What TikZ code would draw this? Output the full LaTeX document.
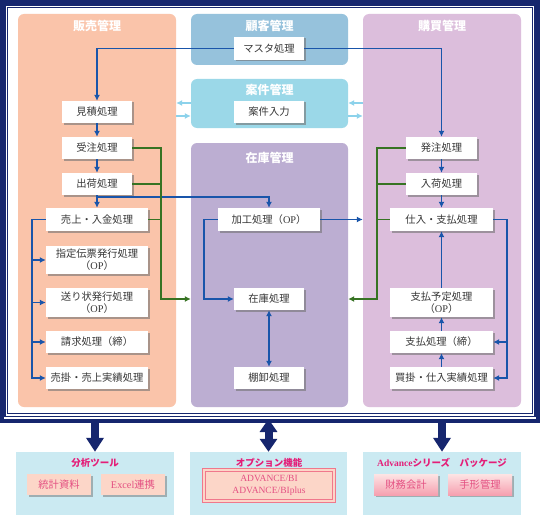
\documentclass[tikz,border=0pt]{standalone}
\usepackage{fontspec}
\setmainfont{Noto Sans CJK JP}
\newfontfamily\lserif{Liberation Serif}
\usetikzlibrary{arrows.meta,shadows,calc}
\definecolor{navy}{RGB}{22,38,110}
\definecolor{csales}{RGB}{250,196,170}
\definecolor{ccust}{RGB}{150,194,220}
\definecolor{ccase}{RGB}{155,216,232}
\definecolor{cstock}{RGB}{188,174,210}
\definecolor{cbuy}{RGB}{220,190,220}
\definecolor{lblue}{RGB}{25,85,170}
\definecolor{lgreen}{RGB}{55,115,35}
\definecolor{lcyan}{RGB}{140,210,235}
\definecolor{cbot}{RGB}{203,234,242}
\definecolor{pinkt}{RGB}{228,30,120}
\definecolor{pinktx}{RGB}{228,80,130}
\definecolor{salbox}{RGB}{252,214,200}
\definecolor{pinkbd}{RGB}{240,120,140}
\definecolor{gradtop}{RGB}{253,228,228}
\definecolor{gradbot}{RGB}{246,160,176}
\definecolor{txtg}{RGB}{55,55,55}
\tikzset{
  panel/.style={rectangle, rounded corners=6pt, inner sep=0pt},
  ptitle/.style={text=white, font=\bfseries\fontsize{12}{14}\selectfont, inner sep=0pt},
  pbox/.style={rectangle, fill=white, inner sep=0pt, text=txtg, align=center,
    font=\fontsize{10.3}{12}\selectfont,
    drop shadow={shadow xshift=1.5pt, shadow yshift=-1.5pt, fill=black!55, opacity=0.6}},
  ws/.style={minimum width=70pt, minimum height=22pt},
  wl/.style={minimum width=102pt, minimum height=22pt},
  blu/.style={draw=lblue, line width=1.7pt},
  grn/.style={draw=lgreen, line width=1.7pt},
  cya/.style={draw=lcyan, line width=1.7pt},
  arr/.style={-{Latex[length=6pt,width=6pt]}},
  darr/.style={{Latex[length=6pt,width=6pt]}-{Latex[length=6pt,width=6pt]}},
  bigarr/.style={draw=navy, line width=8pt, -{Triangle[length=14pt,width=17pt]}},
  bigdarr/.style={draw=navy, line width=8pt, {Triangle[length=13pt,width=17pt]}-{Triangle[length=13pt,width=17pt]}},
  botpanel/.style={rectangle, fill=cbot, inner sep=0pt},
  bottitle/.style={text=pinkt, font=\bfseries\fontsize{9.5}{11}\selectfont, inner sep=0pt},
  subbox/.style={rectangle, inner sep=0pt, minimum width=64pt, minimum height=21pt, text=pinktx,
    font=\fontsize{10.3}{12}\selectfont,
    drop shadow={shadow xshift=1.5pt, shadow yshift=-1.5pt, fill=black!55, opacity=0.5}}
}
\begin{document}
\begin{tikzpicture}[x=1pt,y=-1pt]
\useasboundingbox (0,0) rectangle (540,516);
\fill[white] (0,0) rectangle (540,516);

% frame
\node[inner sep=0pt, minimum width=540pt, minimum height=422pt, anchor=north west] (frame) at (0,0) {};
\draw[navy, line width=3.6pt] (1.8,1.8) rectangle (538.2,420.8);
\draw[navy, line width=1.3pt] (5,5) rectangle (535,416.3);
\draw[navy, line width=0.7pt] (7.2,7.2) rectangle (532.5,413.4);

% panels
\node[panel, fill=csales, minimum width=158pt, minimum height=393pt] (psales) at (97,210.5) {};
\node[panel, fill=ccust, minimum width=157pt, minimum height=51pt] (pcust) at (269.5,39.5) {};
\node[panel, fill=ccase, minimum width=157pt, minimum height=49pt] (pcase) at (269.5,103.5) {};
\node[panel, fill=cstock, minimum width=157pt, minimum height=264pt] (pstock) at (269.5,275) {};
\node[panel, fill=cbuy, minimum width=158pt, minimum height=393pt] (pbuy) at (442,210.5) {};

\node[ptitle] (tsales) at (97,26) {販売管理};
\node[ptitle] (tcust) at (269.5,26) {顧客管理};
\node[ptitle] (tcase) at (269.5,90) {案件管理};
\node[ptitle] (tstock) at (269.5,158) {在庫管理};
\node[ptitle] (tbuy) at (442,26) {購買管理};

% sales boxes
\node[pbox, ws] (m1) at (97,112) {見積処理};
\node[pbox, ws] (m2) at (97,148) {受注処理};
\node[pbox, ws] (m3) at (97,184) {出荷処理};
\node[pbox, wl, minimum height=23pt] (m4) at (97,219.5) {売上・入金処理};
\node[pbox, wl, minimum height=28pt] (m5) at (97,260) {指定伝票発行処理\\（{\lserif OP}）};
\node[pbox, wl, minimum height=29pt] (m6) at (97,302.5) {送り状発行処理\\（{\lserif OP}）};
\node[pbox, wl] (m7) at (97,342) {請求処理（締）};
\node[pbox, wl] (m8) at (97,378) {売掛・売上実績処理};

% middle boxes
\node[pbox, ws, minimum height=23pt] (c1) at (269,48.5) {マスタ処理};
\node[pbox, ws] (c2) at (269,112) {案件入力};
\node[pbox, wl, minimum height=23pt] (s1) at (269,219.5) {加工処理（{\lserif OP}）};
\node[pbox, ws] (s2) at (269,299) {在庫処理};
\node[pbox, ws] (s3) at (269,378) {棚卸処理};

% purchase boxes
\node[pbox, ws, minimum width=71pt] (b1) at (441.5,148) {発注処理};
\node[pbox, ws, minimum width=71pt] (b2) at (441.5,184) {入荷処理};
\node[pbox, wl, minimum width=103pt, minimum height=23pt] (b3) at (441.5,219.5) {仕入・支払処理};
\node[pbox, wl, minimum width=103pt, minimum height=29pt] (b4) at (441.5,302.5) {支払予定処理\\（{\lserif OP}）};
\node[pbox, wl, minimum width=103pt] (b5) at (441.5,342) {支払処理（締）};
\node[pbox, wl, minimum width=103pt] (b6) at (441.5,378) {買掛・仕入実績処理};

% blue connectors
\draw[blu, arr] (c1.west) -| (m1.north);
\draw[blu, arr] (c1.east) -| (b1.north);
\draw[blu, arr] (m1.south) -- (m2.north);
\draw[blu, arr] (m2.south) -- (m3.north);
\draw[blu, arr] (m3.south) -- (m4.north);
\coordinate (j1) at (97,197);
\draw[blu, arr] (j1) -| (s1.north);
\draw[blu, arr] (s1.east) -- (s1.east -| pbuy.west);
\draw[blu, arr] (s1.west) -- ++(-14,0) |- (s2.west);
\draw[blu, darr] (s2.south) -- (s3.north);
\draw[blu, arr] (b1.south) -- (b2.north);
\draw[blu, arr] (b2.south) -- (b3.north);
\draw[blu, arr] (b4.north) -- (b3.south);
\draw[blu, arr] (b5.north) -- (b4.south);
\draw[blu, arr] (b6.north) -- (b5.south);
\draw[blu, arr] (b3.east) -- ++(14,0) coordinate (r1) |- (b6.east);
\draw[blu, arr] (r1 |- b5.east) -- (b5.east);
\draw[blu, arr] (m4.west) -- ++(-14,0) coordinate (l1) |- (m8.west);
\draw[blu, arr] (l1 |- m5.west) -- (m5.west);
\draw[blu, arr] (l1 |- m6.west) -- (m6.west);
\draw[blu, arr] (l1 |- m7.west) -- (m7.west);

% green connectors
\coordinate (g1) at (161,0);
\coordinate (g2) at (377,0);
\draw[grn, arr] (m2.east) -| (g1 |- s2.west) -- (pstock.west |- s2.west);
\draw[grn] (m3.east) -- (m3.east -| g1);
\draw[grn] (m4.east) -- (m4.east -| g1);
\draw[grn, arr] (b1.west) -| (g2 |- s2.east) -- (pstock.east |- s2.east);
\draw[grn] (b2.west) -- (b2.west -| g2);
\draw[grn] (b3.west) -- (b3.west -| g2);

% cyan connectors
\coordinate (ya) at (0,103);
\coordinate (yb) at (0,116);
\draw[cya, arr] (pcase.west |- ya) -- (psales.east |- ya);
\draw[cya, arr] (psales.east |- yb) -- (pcase.west |- yb);
\draw[cya, arr] (pbuy.west |- ya) -- (pcase.east |- ya);
\draw[cya, arr] (pcase.east |- yb) -- (pbuy.west |- yb);

% bottom panels
\node[botpanel, minimum width=158pt, minimum height=63pt] (o1) at (95,483.5) {};
\node[botpanel, minimum width=157pt, minimum height=63pt] (o2) at (268.5,483.5) {};
\node[botpanel, minimum width=158pt, minimum height=63pt] (o3) at (442,483.5) {};
\node[bottitle] (t1) at (95,463) {分析ツール};
\node[bottitle] (t2) at (269,463) {オプション機能};
\node[bottitle] (t3) at (442,463) {{\lserif Advance}シリーズ　パッケージ};

\node[subbox, fill=salbox] (x1) at (59,484.5) {統計資料};
\node[subbox, fill=salbox] (x2) at (133,484.5) {{\lserif Excel}連携};
\node[rectangle, inner sep=0pt, minimum width=130pt, minimum height=31pt, fill=salbox,
  draw=pinkbd, double=salbox, double distance=2pt, line width=1pt, text=pinktx, align=center,
  font=\lserif\fontsize{9.5}{12}\selectfont,
  drop shadow={shadow xshift=1.5pt, shadow yshift=-1.5pt, fill=black!55, opacity=0.5}] (x3) at (269,485.5) {ADVANCE/BI\\ADVANCE/BIplus};
\node[subbox, top color=gradtop, bottom color=gradbot] (x4) at (406,484.5) {財務会計};
\node[subbox, top color=gradtop, bottom color=gradbot] (x5) at (480,484.5) {手形管理};

% big arrows
\draw[bigarr] (o1.north |- 0,420) -- (o1.north);
\draw[bigdarr] (o2.north |- 0,419) -- (o2.north);
\draw[bigarr] (o3.north |- 0,420) -- (o3.north);
\end{tikzpicture}
\end{document}
